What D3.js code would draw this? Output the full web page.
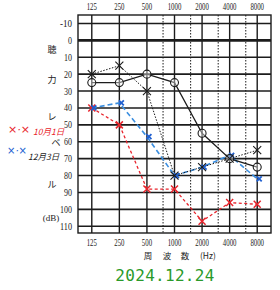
<!DOCTYPE html>
<html>
<head>
<meta charset="utf-8">
<script src="https://cdn.jsdelivr.net/npm/d3@7"></script>
<style>
  body { margin: 0; background: #fff; }
  svg { display: block; }
</style>
</head>
<body>
<div id="chart"></div>
<script>
    var freqs = [125, 250, 500, 1000, 2000, 4000, 8000];
    var halfFreqs = [750, 1500, 3000, 6000];
    var dbTicks = [-10, 0, 10, 20, 30, 40, 50, 60, 70, 80, 90, 100, 110];

    var circleSeries = [25, 25, 20, 25, 55, 70, 75];
    var crossSeries = [20, 15, 30, 80, 75, 70, 65];
    var redSeries = [40, 50, 88, 88, 107, 96, 97];
    var blueSeries = [40, 37, 57, 80, 75, 68, 82];

    var sideLabels = ["聴", "力", "レ", "ベ", "ル"];
    var sideLabelDb = [5, 23, 45, 60, 85];

    (function () {
    var width = 280, height = 290;
    var pLeft = 78, pRight = 271, pTop = 15, pBottom = 233;

    var svg = d3.select("#chart").append("svg")
        .attr("width", width)
        .attr("height", height);

    var x = d3.scaleLog().base(2)
        .domain([125 / Math.SQRT2, 8000 * Math.SQRT2])
        .range([pLeft, pRight]);
    var y = d3.scaleLinear().domain([-15, 114]).range([pTop, pBottom]);

    var ink = "#1c1c1c";

    // grid
    svg.append("g").selectAll("line")
        .data(halfFreqs)
        .enter().append("line")
        .attr("x1", d => x(d)).attr("x2", d => x(d))
        .attr("y1", pTop).attr("y2", pBottom)
        .attr("stroke", ink).attr("stroke-width", 1)
        .attr("stroke-dasharray", "1.5,1.5");

    svg.append("g").selectAll("line")
        .data(freqs)
        .enter().append("line")
        .attr("x1", d => x(d)).attr("x2", d => x(d))
        .attr("y1", pTop).attr("y2", pBottom)
        .attr("stroke", ink).attr("stroke-width", 1.4);

    svg.append("g").selectAll("line")
        .data(dbTicks)
        .enter().append("line")
        .attr("x1", pLeft).attr("x2", pRight)
        .attr("y1", d => y(d)).attr("y2", d => y(d))
        .attr("stroke", ink)
        .attr("stroke-width", d => d === 0 ? 2.8 : 1.6);

    svg.append("rect")
        .attr("x", pLeft).attr("y", pTop)
        .attr("width", pRight - pLeft).attr("height", pBottom - pTop)
        .attr("fill", "none").attr("stroke", ink).attr("stroke-width", 1.4);

    // tick labels
    var labelFont = "'Liberation Serif', 'DejaVu Serif', serif";

    svg.append("g").selectAll("text")
        .data(freqs)
        .enter().append("text")
        .attr("x", d => x(d)).attr("y", 10)
        .attr("text-anchor", "middle")
        .attr("font-family", labelFont).attr("font-size", 10)
        .attr("textLength", d => String(d).length * 3.4)
        .attr("lengthAdjust", "spacingAndGlyphs")
        .attr("fill", ink)
        .text(d => d);

    svg.append("g").selectAll("text")
        .data(freqs)
        .enter().append("text")
        .attr("x", d => x(d)).attr("y", 246)
        .attr("text-anchor", "middle")
        .attr("font-family", labelFont).attr("font-size", 10)
        .attr("textLength", d => String(d).length * 3.4)
        .attr("lengthAdjust", "spacingAndGlyphs")
        .attr("fill", ink)
        .text(d => d);

    svg.append("g").selectAll("text")
        .data(dbTicks)
        .enter().append("text")
        .attr("x", 72).attr("y", d => y(d) + 3.5)
        .attr("text-anchor", "end")
        .attr("font-family", labelFont).attr("font-size", 10)
        .attr("textLength", d => String(d).length * 4)
        .attr("lengthAdjust", "spacingAndGlyphs")
        .attr("fill", ink)
        .text(d => d);

    svg.append("g").selectAll("text")
        .data(sideLabels)
        .enter().append("text")
        .attr("x", (d, i) => i === 3 ? 56 : 52)
        .attr("y", (d, i) => y(sideLabelDb[i]) + 4)
        .attr("text-anchor", "middle")
        .attr("font-family", "'Noto Sans CJK JP', sans-serif")
        .attr("font-size", 9)
        .attr("fill", ink)
        .text(d => d);

    svg.append("text")
        .attr("x", 51).attr("y", 221)
        .attr("text-anchor", "middle")
        .attr("font-family", labelFont).attr("font-size", 9)
        .attr("fill", ink)
        .text("(dB)");

    var axisTitle = [["周", 148], ["波", 167], ["数", 185], ["(Hz)", 208]];
    svg.append("g").selectAll("text")
        .data(axisTitle)
        .enter().append("text")
        .attr("x", d => d[1]).attr("y", 259)
        .attr("text-anchor", "middle")
        .attr("font-family", "'Noto Sans CJK JP', serif")
        .attr("font-size", 8.5)
        .attr("fill", ink)
        .text(d => d[0]);

    // series
    var pts = vals => vals.map((v, i) => [freqs[i], v]);
    var line = d3.line().x(d => x(d[0])).y(d => y(d[1]));

    function crossPath(px, py, s) {
        return "M" + (px - s) + "," + (py - s) + "L" + (px + s) + "," + (py + s) +
            "M" + (px - s) + "," + (py + s) + "L" + (px + s) + "," + (py - s);
    }

    svg.append("path")
        .attr("d", line(pts(redSeries)))
        .attr("fill", "none").attr("stroke", "#e8242c")
        .attr("stroke-width", 1.3).attr("stroke-dasharray", "3,2.5");

    svg.append("path")
        .attr("d", line(pts(blueSeries)))
        .attr("fill", "none").attr("stroke", "#3a8ee0")
        .attr("stroke-width", 1.6).attr("stroke-dasharray", "5,3");

    svg.append("path")
        .attr("d", line(pts(crossSeries)))
        .attr("fill", "none").attr("stroke", ink)
        .attr("stroke-width", 1).attr("stroke-dasharray", "1.5,1.5");

    svg.append("path")
        .attr("d", line(pts(circleSeries)))
        .attr("fill", "none").attr("stroke", ink)
        .attr("stroke-width", 1.2);

    svg.append("g").selectAll("path")
        .data(pts(redSeries))
        .enter().append("path")
        .attr("d", d => crossPath(x(d[0]), y(d[1]), 3.5))
        .attr("stroke", "#e8242c").attr("stroke-width", 1.5);

    svg.append("g").selectAll("path")
        .data(pts(blueSeries))
        .enter().append("path")
        .attr("d", d => crossPath(x(d[0]) + 2, y(d[1]), 2.5))
        .attr("stroke", "#2060d0").attr("stroke-width", 1.8);

    svg.append("g").selectAll("circle")
        .data(pts(circleSeries))
        .enter().append("circle")
        .attr("cx", d => x(d[0])).attr("cy", d => y(d[1]))
        .attr("r", 4)
        .attr("fill", "#fff").attr("fill-opacity", 0.4)
        .attr("stroke", ink).attr("stroke-width", 1.1);

    svg.append("g").selectAll("path")
        .data(pts(crossSeries))
        .enter().append("path")
        .attr("d", d => crossPath(x(d[0]), y(d[1]), 4))
        .attr("stroke", ink).attr("stroke-width", 1.1);

    // handwritten legend
    var handFont = "'Noto Sans CJK JP', sans-serif";
    svg.append("text").attr("x", 8).attr("y", 133)
        .attr("font-family", "'DejaVu Sans', sans-serif").attr("font-size", 11)
        .attr("font-style", "italic")
        .attr("fill", "#e8242c").text("×·×");
    svg.append("text").attr("x", 33).attr("y", 135)
        .attr("font-family", handFont).attr("font-size", 8.5).attr("font-style", "italic")
        .attr("fill", "#e8242c").text("10月1日");
    svg.append("text").attr("x", 7).attr("y", 154)
        .attr("font-family", "'DejaVu Sans', sans-serif").attr("font-size", 10)
        .attr("font-style", "italic")
        .attr("fill", "#2060d0").text("×·×");
    svg.append("text").attr("x", 28).attr("y", 160)
        .attr("font-family", handFont).attr("font-size", 8.5).attr("font-style", "italic")
        .attr("fill", ink).text("12月3日");

    // date
    svg.append("text")
        .attr("x", 165).attr("y", 281)
        .attr("text-anchor", "middle")
        .attr("font-family", "'DejaVu Sans Mono', monospace")
        .attr("font-size", 16)
        .attr("letter-spacing", 0.3)
        .attr("fill", "#2a9a2a")
        .text("2024.12.24");
    })();
</script>
</body>
</html>
